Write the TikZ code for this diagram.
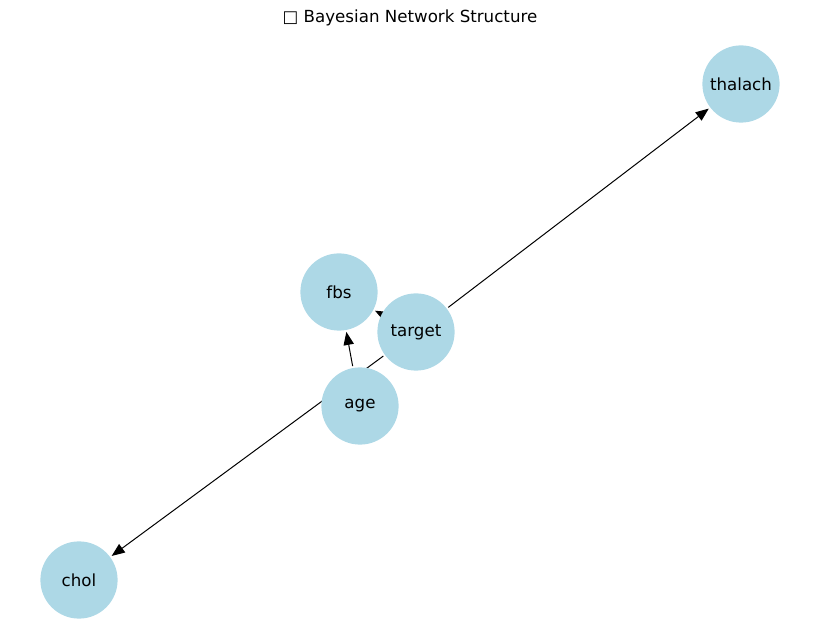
\documentclass[tikz,border=0pt]{standalone}
\usepackage{fontspec}
\setmainfont{DejaVu Sans}
\usetikzlibrary{arrows.meta,backgrounds}
\definecolor{nodeblue}{HTML}{ADD8E6}
\tikzset{
  bnnode/.style={circle, fill=nodeblue, draw=none, minimum size=55.6pt, inner sep=0pt, font=\fontsize{12pt}{14pt}\selectfont},
  bnedge/.style={draw=black, line width=0.72pt, -{Triangle[length=9.4pt,width=7.4pt]}, shorten >=1.2pt, shorten <=1.2pt}
}
\begin{document}
\begin{tikzpicture}[x=0.72pt,y=-0.72pt]
\useasboundingbox (0,0) rectangle (819,642);
\node[font=\fontsize{12pt}{14pt}\selectfont] (title) at (410,18) {□ Bayesian Network Structure};
\node[bnnode] (thalach) at (741,84) {thalach};
\node[bnnode] (fbs) at (339,292) {fbs};
\node[bnnode] (target) at (416,332) {target};
\node[bnnode] (age) at (360,406) {age};
\node[bnnode] (chol) at (79,580) {chol};
\begin{pgfonlayer}{background}
\draw[bnedge] (target) -- (thalach);
\draw[bnedge] (target) -- (chol);
\draw[bnedge] (target) -- (fbs);
\draw[bnedge] (age) -- (fbs);
\end{pgfonlayer}
\end{tikzpicture}
\end{document}
